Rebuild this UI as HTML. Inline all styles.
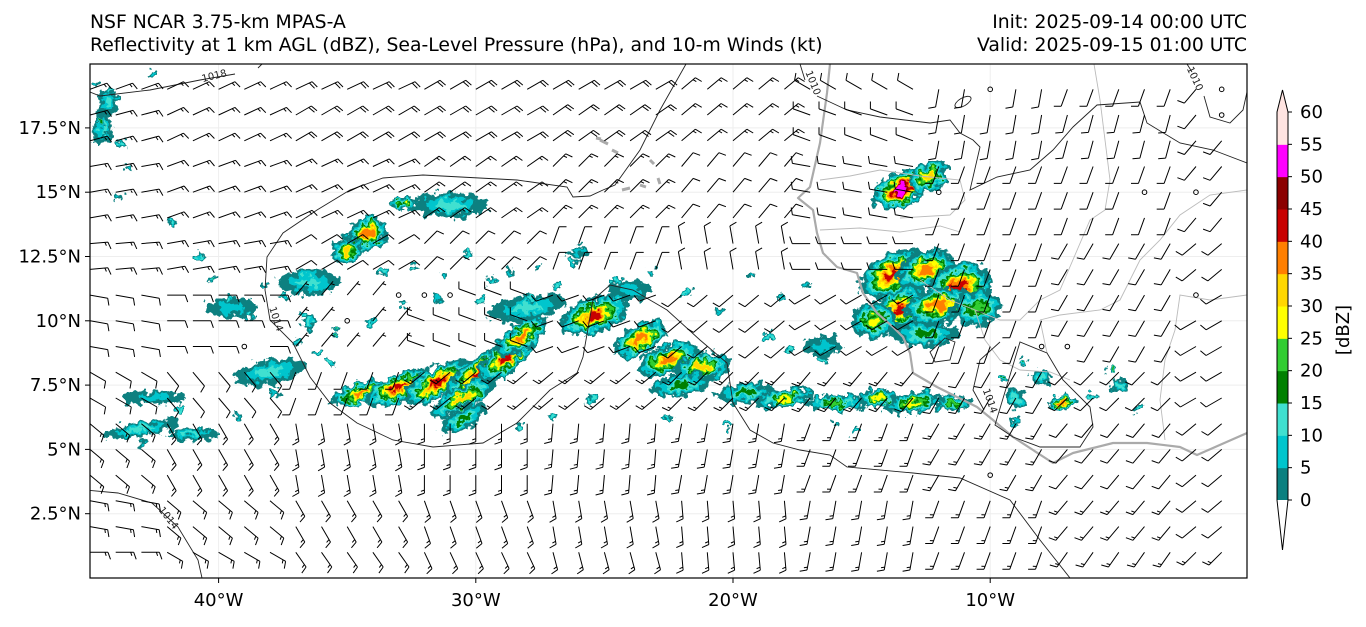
<!DOCTYPE html>
<html><head><meta charset="utf-8">
<style>
html,body{margin:0;padding:0;background:#fff;}
body{width:1366px;height:623px;overflow:hidden;font-family:"DejaVu Sans","Liberation Sans",sans-serif;}
svg text{font-family:"DejaVu Sans","Liberation Sans",sans-serif;}
</style></head>
<body>
<svg id="chart" width="1366" height="623" viewBox="0 0 1366 623" xmlns="http://www.w3.org/2000/svg">
<defs>
<clipPath id="plotclip"><rect x="90" y="64" width="1157" height="514"/></clipPath>
<filter id="rough" x="-10%" y="-10%" width="120%" height="120%">
<feTurbulence type="fractalNoise" baseFrequency="0.13" numOctaves="3" seed="5" result="n"/>
<feDisplacementMap in="SourceGraphic" in2="n" scale="16" xChannelSelector="R" yChannelSelector="G"/>
</filter>
</defs>
<text x="90" y="28" font-size="18.8" fill="#000">NSF NCAR 3.75-km MPAS-A</text>
<text x="90" y="51" font-size="18.8" fill="#000">Reflectivity at 1 km AGL (dBZ), Sea-Level Pressure (hPa), and 10-m Winds (kt)</text>
<text x="1247" y="28" font-size="18.8" fill="#000" text-anchor="end">Init: 2025-09-14 00:00 UTC</text>
<text x="1247" y="51" font-size="18.8" fill="#000" text-anchor="end">Valid: 2025-09-15 01:00 UTC</text>

<g clip-path="url(#plotclip)">
<g id="grid"></g>
<g id="refl" filter="url(#rough)"></g>
<g fill="none" stroke="#aaa" stroke-width="2.2" stroke-linejoin="round">
<path d="M830,64 L827,93 L820,143 L810,187 L798,198 L813,210 L817,233 L823,253 L837,267 L857,273 L863,293 L877,313 L893,327 L903,337 L910,353 L913,373 L937,387 L957,397 L977,407 L993,420 L1013,437 L1033,450 L1053,463 L1073,453 L1113,443 L1147,443 L1180,447 L1197,455 L1247,433"/>
<path d="M600,140 l8,4 M612,150 l6,3 M622,190 l8,-2 M640,185 l6,2 M650,160 l4,4 M658,178 l2,6 M596,138 l5,1" stroke-width="3"/>
</g>
<g fill="none" stroke="#bbb" stroke-width="0.9">
<path d="M1094,64 L1100,100 L1110,180 L1105,210 L1090,220 L1060,290 L1040,300 L1020,320 L1000,320 L975,310 L950,300 L920,280"/>
<path d="M820,230 L860,228 L900,232 L940,226 L960,232"/>
<path d="M820,180 L850,176 L880,170 L920,176 L960,180 L965,200 L950,215 L900,218"/>
<path d="M1247,190 L1210,195 L1180,215 L1160,240 L1140,260 L1120,300 L1100,310 L1060,315 L1040,320"/>
<path d="M1247,295 L1210,300 L1180,295 L1175,330 L1165,360 L1160,400 L1165,440"/>
<path d="M975,310 L985,340 L1000,360 L1020,370 L1050,372 L1070,380"/>
<path d="M1040,320 L1047,353"/>
</g>
<g fill="none" stroke="#222" stroke-width="0.9">
<path d="M90,92 L100,96 L150,90 L200,80 L235,74 M258,68 L262,64"/>
<path d="M686,64 L660,110 L640,150 L615,185 L603,190 L590,196 L573,197 L567,187 L517,180 L423,175 L383,178 L350,190 L317,210 L283,233 L267,257 L265,290 L270,320 L293,343 L310,377 L330,403 L357,423 L393,440 L433,447 L483,443 L517,423 L550,390 L577,373 L583,357 L593,300 L610,285 L633,290 L667,310 L700,340 L727,363 L733,403 L750,430 L773,443 L800,450 L830,455 L847,467 L913,473 L960,478 L1010,500 L1040,540 L1070,578"/>
<path d="M85,490 L118,493 L152,503 L178,527 L198,560 L202,578"/>
<path d="M800,64 L805,80 M817,96 L847,110 L880,117 L930,123 L950,120 L960,133 L973,140 L980,147 L970,190 L997,177 L1030,170 L1053,150 L1073,127 L1097,105 L1140,102 L1147,123 L1180,143 L1213,150 L1247,163"/>
<path d="M1187,64 L1192,72 M1204,96 L1210,117 L1230,123 L1243,110 L1247,92"/>
<ellipse cx="963" cy="102" rx="9" ry="4" transform="rotate(-30 963 102)"/>
<path d="M1000,342 L980,360 L973,390 L984,410 M995,425 L1013,437 L1040,447 L1080,447 L1093,427 L1090,407 L1063,380 L1047,353 L1020,342 Z"/>
<path d="M930,352 L945,338 L955,342 L950,360 L935,362 Z"/>
</g>
<g font-size="10" fill="#222">
<text x="215" y="79" transform="rotate(-14 215 79)" text-anchor="middle">1018</text>
<text x="273" y="320" transform="rotate(72 273 320)" text-anchor="middle">1014</text>
<text x="166" y="520" transform="rotate(52 166 520)" text-anchor="middle">1014</text>
<text x="810" y="84" transform="rotate(68 810 84)" text-anchor="middle">1010</text>
<text x="1192" y="80" transform="rotate(65 1192 80)" text-anchor="middle">1010</text>
<text x="987" y="402" transform="rotate(70 987 402)" text-anchor="middle">1014</text>
</g>
<g id="barbs" stroke="#000" stroke-width="1" fill="none"></g>
</g>
<rect x="90" y="64" width="1157" height="514" fill="none" stroke="#000" stroke-width="1.2"/>
<g id="axes"></g>
<g id="cbar"></g>
<text x="1349" y="330" font-size="18" text-anchor="middle" transform="rotate(-90 1349 330)">[dBZ]</text>
</svg>
<script>
// ---------- data ----------
const lonTicks = [-40, -30, -20, -10];
const lonTickLabels = ["40°W", "30°W", "20°W", "10°W"];
const latTicks = [2.5, 5, 7.5, 10, 12.5, 15, 17.5];
const latTickLabels = ["2.5°N", "5°N", "7.5°N", "10°N", "12.5°N", "15°N", "17.5°N"];
const dbzLevels = [0, 5, 10, 15, 20, 25, 30, 35, 40, 45, 50, 55, 60];
const dbzColors = ["#0b8080", "#00c5cd", "#40e0d0", "#008000", "#32cd32", "#ffff00", "#ffd700", "#ff7f00", "#c80000", "#8b0000", "#ff00ff", "#ffe4e1"];

// reflectivity cells: center lon/lat, peak dBZ, radii (deg), rotation (deg)
const cellLon = [-34.5,-33,-31.5,-29.8,-28.8,-28.2,-30.5,-30.5,-25.4,-23.6,-22.5,-21.2,-22,-19.5,-18,-16,-14.3,-13,-11.5,-13.8,-12.5,-11.2,-13.6,-12,-10.5,-14.5,-12.5,-13.5,-12.4,-7.2,-8,-34.2,-35,-32.8,-36.5,-43,-41,-44.3,-28,-31,-26,-36.5,-38,-39.5,-42.5,-24,-16.5,-9,-5,-44.5];
const cellLat = [7.2,7.4,7.6,8.0,8.6,9.4,7.0,6.2,10.2,9.3,8.5,8.2,7.5,7.2,7.0,6.8,7.0,6.8,6.8,11.8,12.0,11.3,10.4,10.6,10.5,10.0,9.5,15.1,15.6,6.8,7.8,13.4,12.7,14.6,9.9,5.8,5.6,18.5,10.5,14.5,12.7,11.5,8.0,10.5,7.0,11.2,9.0,7.0,7.5,17.5];
const cellMax = [40,45,45,45,45,40,35,20,45,40,40,35,20,20,30,25,30,30,25,45,40,45,45,40,25,30,20,55,35,40,15,40,35,30,15,15,15,15,15,15,10,15,15,10,10,10,10,15,15,15];
const cellRx = [1.0,1.2,1.3,1.4,1.2,1.0,1.2,1.0,1.2,1.0,1.1,1.0,1.3,1.2,1.0,1.2,0.7,1.0,0.8,1.2,1.0,1.1,1.2,1.2,1.0,0.8,1.3,1.0,0.7,0.5,0.4,0.7,0.5,0.4,0.3,1.5,1.0,0.4,1.5,1.5,0.5,1.2,1.4,1.0,1.2,0.8,0.8,0.4,0.3,0.4];
const cellRy = [0.35,0.45,0.5,0.55,0.5,0.45,0.4,0.4,0.6,0.5,0.5,0.45,0.4,0.4,0.3,0.3,0.3,0.35,0.3,0.7,0.6,0.8,0.6,0.6,0.7,0.6,0.5,0.6,0.5,0.25,0.3,0.6,0.5,0.25,0.3,0.3,0.25,0.6,0.5,0.5,0.2,0.5,0.5,0.4,0.3,0.4,0.4,0.4,0.3,0.7];
const cellAng = [-20,-25,-30,-35,-40,-35,-30,-30,-20,-30,-20,-10,-10,-5,-10,0,0,-10,0,-30,-20,-20,-30,-10,-10,0,0,-25,-30,-10,0,-40,-60,-20,0,-10,0,0,-10,0,0,0,-10,0,0,0,0,0,0,0];

// scattered small echoes (lon, lat, peak dBZ)
const speckLon = [-44.6,-44.2,-43.8,-43.5,-42.6,-41.8,-40.8,-40.2,-39.6,-38.8,-38.2,-37.5,-36.9,-36.2,-35.7,-37.8,-39.2,-41.5,-43.0,-33.6,-32.4,-31.2,-30.3,-29.4,-28.7,-27.6,-26.8,-26.2,-27.9,-29.8,-31.5,-32.9,-34.1,-35.4,-36.7,-24.5,-23.2,-21.8,-20.6,-19.3,-18.1,-17.2,-22.5,-20.2,-16.0,-15.2,-16.5,-9.6,-8.7,-5.3,-6.0,-4.2,-9.0,-17.8,-18.6,-25.5,-27.0,-28.3,-44.8,-44.4,-43.9];
const speckLat = [17.8,18.9,16.9,15.9,19.6,13.8,12.5,11.6,10.9,10.2,11.4,11.0,9.2,8.8,8.4,7.2,6.3,6.6,5.3,11.9,12.1,11.8,12.6,11.6,11.9,12.1,11.4,12.3,10.9,10.8,10.9,10.6,9.9,9.5,10.3,11.6,11.9,11.1,10.4,11.8,10.9,11.4,6.2,6.0,6.0,5.7,8.5,7.8,8.4,8.1,7.1,6.6,6.1,8.9,9.4,6.9,6.3,5.9,19.2,17.2,14.8];
const speckMax = [20,15,15,10,10,15,15,20,15,15,10,15,15,15,15,10,10,15,10,15,15,10,15,15,10,10,15,15,15,15,10,15,15,20,15,15,10,15,10,10,15,10,15,15,10,15,15,20,20,25,15,15,10,15,15,15,15,15,10,15,10];

// wind field on coarse nodes: rows = latitude, cols = longitude
const windLats = [20, 17.5, 15, 12.5, 10, 7.5, 5, 2.5, 0];
const windLons = [-45, -40, -35, -30, -25, -20, -15, -10, -5, 0];
const windDir = [
 [70,65,65,60,60,50,300,190,200,220],
 [75,65,60,60,55,50,290,190,195,220],
 [80,70,65,55,45,40,280,200,200,220],
 [85,80,60,45,20,350,270,200,210,230],
 [100,90,40,290,250,230,240,200,210,240],
 [120,140,200,230,230,225,220,210,225,240],
 [130,150,170,180,185,190,200,210,220,230],
 [100,130,150,160,170,175,190,200,220,230],
 [90,120,145,155,165,175,190,200,215,225]];
const windSpd = [
 [15,15,20,20,20,15,10,10,10,10],
 [15,15,20,20,20,15,10,10,10,10],
 [15,15,15,15,15,10,10,10,10,10],
 [15,15,10,10,10,10,10,10,10,10],
 [10,10,5,10,10,10,10,10,10,10],
 [10,10,10,15,15,15,15,10,10,10],
 [15,15,15,15,15,15,15,15,10,10],
 [15,15,15,15,15,15,15,15,15,10],
 [15,15,15,15,15,15,15,15,15,15]];
const calmLon = [-39,-35,-33,-32,-31,-10,-1,-1,-4,-2,-12,-7,-8,-2,-10];
const calmLat = [9,10,11,11,11,19,19,18,15,15,15,9,9,11,4];

// ---------- helpers ----------
const NS = "http://www.w3.org/2000/svg";
const K = 25.72;
function X(lon){ return 90 + (lon + 45) * K; }
function Y(lat){ return 578 - lat * K; }
function el(tag, attrs, parent){ const e = document.createElementNS(NS, tag); for (const k in attrs) e.setAttribute(k, attrs[k]); parent.appendChild(e); return e; }

const grid = document.getElementById('grid');
lonTicks.forEach(function(l){
  const g = el('line', {x1:X(l), x2:X(l), y1:64, y2:578, stroke:'#eee', 'stroke-width':1}, grid);
  
  
});
latTicks.forEach(function(l){
  const g = el('line', {x1:90, x2:1247, y1:Y(l), y2:Y(l), stroke:'#eee', 'stroke-width':1}, grid);
  
  
});

const axes = document.getElementById('axes');
lonTicks.forEach(function(l, i){
  const t = el('line', {x1:X(l), x2:X(l), y1:578, y2:583, stroke:'#000', 'stroke-width':1}, axes);
  
  
  const tx = el('text', {x:X(l), y:606, 'font-size':18, 'text-anchor':'middle'}, axes);
  tx.textContent = lonTickLabels[i];
  
  
});
latTicks.forEach(function(l, i){
  const t = el('line', {x1:85, x2:90, y1:Y(l), y2:Y(l), stroke:'#000', 'stroke-width':1}, axes);
  
  
  const tx = el('text', {x:81, y:Y(l)+6, 'font-size':18, 'text-anchor':'end'}, axes);
  tx.textContent = latTickLabels[i];
  
  
});

// ---------- reflectivity ----------
const refl = document.getElementById('refl');
function drawCell(lon, lat, mx, rxd, ryd, ang, name){
  const cx = X(lon), cy = Y(lat);
  const rx = rxd * K, ry = ryd * K;
  const n = Math.floor(mx / 5);
  for (let k = 0; k < n && k < dbzColors.length; k++) {
    const f = 1 - Math.pow(k / n, 0.8) * 0.85;
    const e = el('ellipse', {cx:cx, cy:cy, rx:rx*f, ry:ry*f, fill:dbzColors[k], transform:'rotate(' + ang + ' ' + cx + ' ' + cy + ')'}, refl);
    
    
  }
}
for (let i = 0; i < cellLon.length; i++) {
  const s = cellMax[i] >= 30 ? 1.15 : 1.0;
  drawCell(cellLon[i], cellLat[i], cellMax[i], cellRx[i]*s, cellRy[i]*s, cellAng[i], 'reflectivity-cell');
}
for (let i = 0; i < speckLon.length; i++) {
  drawCell(speckLon[i], speckLat[i], speckMax[i], 0.18, 0.14, 0, 'reflectivity-speckle');
}

// ---------- wind barbs ----------
function nearestIdx(arr, v){ let b = 0; for (let i = 1; i < arr.length; i++) if (Math.abs(arr[i]-v) < Math.abs(arr[b]-v)) b = i; return b; }
const barbs = document.getElementById('barbs');
for (let lat = 0; lat <= 19; lat++) {
  for (let lon = -45; lon <= -1; lon++) {
    const isCalm = calmLon.some(function(c, j){ return c === lon && calmLat[j] === lat; });
    const x0 = X(lon), y0 = Y(lat);
    if (isCalm) {
      const c = el('circle', {cx:x0, cy:y0, r:2.3}, barbs);
      
      
      continue;
    }
    const r = nearestIdx(windLats, lat), c = nearestIdx(windLons, lon);
    const th = windDir[r][c] * Math.PI / 180, sp = windSpd[r][c];
    const dx = Math.sin(th), dy = -Math.cos(th);
    const px = -dy, py = dx;
    const L = 18;
    const tx = x0 + dx * L, ty = y0 + dy * L;
    let d = 'M' + x0.toFixed(1) + ',' + y0.toFixed(1) + 'L' + tx.toFixed(1) + ',' + ty.toFixed(1);
    let full = Math.floor(sp / 10), half = (sp % 10) >= 5 ? 1 : 0;
    let off = 0;
    for (let f = 0; f < full; f++) {
      const bx = tx - dx * off, by = ty - dy * off;
      d += 'M' + bx.toFixed(1) + ',' + by.toFixed(1) + 'l' + (px*7 + dx*2.5).toFixed(1) + ',' + (py*7 + dy*2.5).toFixed(1);
      off += 3;
    }
    if (half) {
      if (full === 0) off = 3;
      const bx = tx - dx * off, by = ty - dy * off;
      d += 'M' + bx.toFixed(1) + ',' + by.toFixed(1) + 'l' + (px*3.5 + dx*1.2).toFixed(1) + ',' + (py*3.5 + dy*1.2).toFixed(1);
    }
    const p = el('path', {d:d}, barbs);
    
    
  }
}

// ---------- colorbar ----------
const cb = document.getElementById('cbar');
const cbX = 1277, cbW = 11, cbTop = 112, cbBot = 500;
function CY(v){ return cbBot - (v / 60) * (cbBot - cbTop); }
for (let i = 0; i < dbzColors.length; i++) {
  const r = el('rect', {x:cbX, y:CY(dbzLevels[i+1]), width:cbW, height:CY(dbzLevels[i]) - CY(dbzLevels[i+1]) + 0.5, fill:dbzColors[i]}, cb);
  
  
}
const topTri = el('path', {d:'M'+cbX+','+cbTop+' L'+(cbX+cbW/2)+',90 L'+(cbX+cbW)+','+cbTop+' Z', fill:dbzColors[11]}, cb);


const botTri = el('path', {d:'M'+cbX+','+cbBot+' L'+(cbX+cbW/2)+',550 L'+(cbX+cbW)+','+cbBot+' Z', fill:'#fff'}, cb);


const outline = el('path', {d:'M'+cbX+','+cbTop+' L'+(cbX+cbW/2)+',90 L'+(cbX+cbW)+','+cbTop+' L'+(cbX+cbW)+','+cbBot+' L'+(cbX+cbW/2)+',550 L'+cbX+','+cbBot+' Z', fill:'none', stroke:'#000', 'stroke-width':1}, cb);


dbzLevels.forEach(function(v){
  const t = el('line', {x1:cbX+cbW, x2:cbX+cbW+4, y1:CY(v), y2:CY(v), stroke:'#000', 'stroke-width':1}, cb);
  
  
  const tx = el('text', {x:1300, y:CY(v)+6, 'font-size':18}, cb);
  tx.textContent = String(v);
  
  
});
</script>
</body></html>
